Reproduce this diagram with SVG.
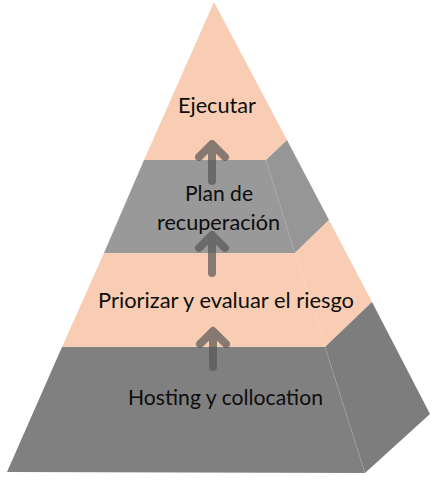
<svg xmlns="http://www.w3.org/2000/svg" width="440" height="490" viewBox="0 0 440 490">
<style>
.peach{fill:#F8CDB3}
.g1f{fill:#999999}
.g1s{fill:#969696}
.g2f{fill:#808080}
.g2s{fill:#7D7D7D}
.edge{stroke:#a8a8a8;stroke-width:0.6;stroke-opacity:0.6;fill:none}
.lbl{font-family:Lato,"Open Sans","Liberation Sans",sans-serif;font-size:21px;fill:#0d0d0d;text-anchor:middle}
.arr{stroke:#595959;stroke-width:8;fill:none;stroke-linecap:round;stroke-linejoin:round}
</style>
<rect width="440" height="490" fill="#ffffff"/>
<g id="layer-ejecutar">
<polygon class="peach" points="214,2 287,140 266,160 144,160"/>
<text class="lbl" x="217" y="113" textLength="78" lengthAdjust="spacingAndGlyphs">Ejecutar</text>
</g>
<g id="layer-plan">
<polygon class="g1f" points="144,160 266,160 295,253 104,253"/>
<polygon class="g1s" points="266,160 287,140 329,220 295,253"/>
<line class="edge" x1="266" y1="160" x2="295" y2="253"/>
<text class="lbl" x="219" y="201" textLength="68" lengthAdjust="spacingAndGlyphs">Plan de</text>
<text class="lbl" x="218.5" y="230" textLength="123" lengthAdjust="spacingAndGlyphs">recuperación</text>
</g>
<g id="layer-priorizar">
<polygon class="peach" points="104,253 295,253 325,347 62,347"/>
<polygon class="peach" points="295,253 329,220 372,302 325,347"/>
<text class="lbl" x="226" y="308" textLength="256" lengthAdjust="spacingAndGlyphs">Priorizar y evaluar el riesgo</text>
</g>
<g id="layer-hosting">
<polygon class="g2f" points="62,347 325,347 365,473 7,472"/>
<polygon class="g2s" points="325,347 372,302 430,414 365,473"/>
<line class="edge" x1="325" y1="347" x2="365" y2="473"/>
<text class="lbl" x="225.5" y="405" textLength="195" lengthAdjust="spacingAndGlyphs">Hosting y collocation</text>
</g>
<g id="connectors" opacity="0.72">
<path class="arr" d="M212,181 V146 M199,157 L212,144 L225,157"/>
<path class="arr" d="M212,273 V237 M199,248 L212,235 L225,248"/>
<path class="arr" d="M213,367 V333 M200,344 L213,331 L226,344"/>
</g>
</svg>
